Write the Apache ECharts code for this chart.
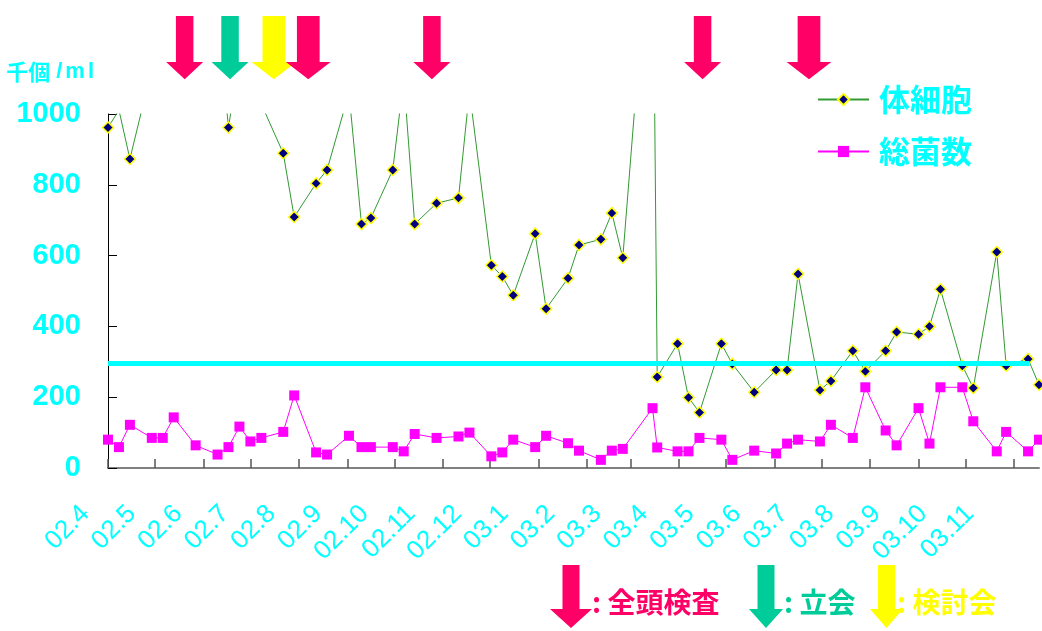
<!DOCTYPE html>
<html>
<head>
<meta charset="utf-8">
<script src="https://cdn.jsdelivr.net/npm/echarts@6/dist/echarts.min.js"></script>
<style>
  html, body { margin: 0; padding: 0; background: #ffffff; }
  #chart { width: 1042px; height: 631px; }
</style>
</head>
<body>
<div id="chart"></div>
<script>
// Weekly bulk-milk sampling dates
const sampleDates = [
  '2002-04-01', '2002-04-08', '2002-04-15', '2002-04-29', '2002-05-06', '2002-05-13', '2002-05-27',
  '2002-06-10', '2002-06-17', '2002-06-24', '2002-07-01', '2002-07-08', '2002-07-22', '2002-07-29',
  '2002-08-12', '2002-08-19', '2002-09-02', '2002-09-10', '2002-09-16', '2002-09-30', '2002-10-07',
  '2002-10-14', '2002-10-28', '2002-11-11', '2002-11-18', '2002-12-02', '2002-12-09', '2002-12-16',
  '2002-12-30', '2003-01-06', '2003-01-20', '2003-01-27', '2003-02-10', '2003-02-17', '2003-02-24',
  '2003-03-15', '2003-03-18', '2003-03-31', '2003-04-07', '2003-04-14', '2003-04-28', '2003-05-05',
  '2003-05-19', '2003-06-02', '2003-06-09', '2003-06-16', '2003-06-30', '2003-07-07', '2003-07-21',
  '2003-07-29', '2003-08-11', '2003-08-18', '2003-09-01', '2003-09-08', '2003-09-15', '2003-09-29',
  '2003-10-06', '2003-10-21', '2003-10-27', '2003-11-10', '2003-11-17'
];

// 体細胞 (thousand cells / ml)
const somaticCells = [
  962, 1011, 873, 1128, 1180, 1220, 1250,
  1285, 962, 1164, 1100, 1028, 889, 709,
  804, 842, 1060, 689, 706, 842, 1100,
  689, 748, 763, 1065, 573, 541, 488,
  662, 450, 536, 630, 646, 720, 594,
  1650, 257, 351, 199, 157, 351, 294,
  214, 277, 277, 548, 220, 246, 331,
  273, 331, 384, 378, 400, 505, 289,
  226, 610, 289, 308, 235
];

// 総菌数 (thousand / ml)
const totalBacteria = [
  80, 59, 122, 85, 85, 143, 64,
  38, 59, 117, 75, 85, 102, 205,
  44, 38, 91, 59, 59, 59, 47,
  96, 85, 89, 100, 33, 44, 80,
  59, 91, 70, 49, 23, 49, 54,
  169, 58, 47, 47, 85, 80, 23,
  49, 41, 69, 80, 75, 122, 85,
  228, 106, 64, 169, 69, 228, 228,
  132, 47, 102, 47, 80
];

const monthLabels = [
  '02.4', '02.5', '02.6', '02.7', '02.8', '02.9', '02.10', '02.11', '02.12',
  '03.1', '03.2', '03.3', '03.4', '03.5', '03.6', '03.7', '03.8', '03.9', '03.10', '03.11'
];

const axisStart = '2002-04-01';
const axisEnd = '2003-11-17';

// reference level line
const thresholdValue = 295;
const thresholdSpan = ['2002-04-01', '2003-11-11'];

// herd events marked with arrows above the plot
const eventDates = ['2002-05-20', '2002-06-18', '2002-07-16', '2002-08-07', '2002-10-25', '2003-04-16', '2003-06-23'];
const eventTypes = ['全頭検査', '立会', '検討会', '全頭検査', '全頭検査', '全頭検査', '全頭検査'];
const eventTypeNames = ['全頭検査', '立会', '検討会'];

// ---- styling ----
const CYAN = '#00FFFF';
const EVENT_COLORS = { '全頭検査': '#FF0066', '立会': '#00CC99', '検討会': '#FFFF00' };
const WIDE_ARROW_EVENTS = [2, 3, 6];

function parseDay(s) {
  const p = s.split('-').map(Number);
  return new Date(p[0], p[1] - 1, p[2]).getTime();
}
function monthStart(label) {
  const p = label.split('.').map(Number);
  return new Date(2000 + p[0], p[1] - 1, 1).getTime();
}

const ts = sampleDates.map(parseDay);
const monthTicks = monthLabels.map(monthStart);

const chart = echarts.init(document.getElementById('chart'), null, { renderer: 'canvas' });

const nameFont = { color: CYAN, fontSize: 22, fontWeight: 'bold' };

chart.setOption({
  animation: false,
  backgroundColor: '#ffffff',
  grid: { left: 108, right: 3, top: 114, bottom: 163, containLabel: false },
  legend: {
    data: ['体細胞', '総菌数'],
    orient: 'vertical',
    left: 817,
    top: 84,
    padding: 0,
    itemWidth: 51,
    itemHeight: 14,
    itemGap: 21,
    selectedMode: false,
    textStyle: {
      color: CYAN, fontSize: 31, fontWeight: 'bold',
      fontFamily: 'Noto Sans CJK JP', padding: [0, 0, 0, 5]
    }
  },
  xAxis: [
    {
      type: 'time',
      min: parseDay(axisStart),
      max: parseDay(axisEnd),
      axisLine: { show: true, lineStyle: { color: '#808080', width: 2 } },
      axisTick: { show: true, inside: true, length: 9, customValues: monthTicks, lineStyle: { color: '#555555', width: 1.5 } },
      axisLabel: { show: false },
      splitLine: { show: false }
    },
    {
      type: 'category',
      data: monthLabels.concat(['']),
      boundaryGap: false,
      position: 'bottom',
      axisLine: { show: false },
      axisTick: { show: false },
      axisLabel: {
        interval: 0, rotate: 45, margin: 19, padding: [0, 32, 0, 0],
        color: CYAN, fontSize: 26, fontFamily: 'Liberation Sans'
      },
      splitLine: { show: false }
    }
  ],
  yAxis: {
    type: 'value',
    min: 0, max: 1000, interval: 200,
    name: '{c|千個}{s|/}{m|m}{l|l}',
    nameLocation: 'end',
    nameGap: 31,
    nameTextStyle: {
      align: 'right', verticalAlign: 'bottom', padding: [0, 14, 0, 0],
      rich: {
        c: Object.assign({ fontFamily: 'Noto Sans CJK JP' }, nameFont),
        s: Object.assign({ fontFamily: 'Liberation Sans', padding: [0, 0, 0, 6] }, nameFont),
        m: Object.assign({ fontFamily: 'Liberation Sans', padding: [0, 0, 0, 3] }, nameFont),
        l: Object.assign({ fontFamily: 'Liberation Sans', padding: [0, 0, 0, 3] }, nameFont)
      }
    },
    axisLine: { show: true, lineStyle: { color: '#000000', width: 1 } },
    axisTick: { show: true, inside: true, length: 9, lineStyle: { color: '#000000', width: 1 } },
    axisLabel: {
      color: CYAN, fontSize: 29, fontWeight: 'bold', fontFamily: 'Liberation Sans',
      margin: 27, padding: [6, 0, 0, 0],
      formatter: v => String(v)
    },
    splitLine: { show: false }
  },
  series: [
    {
      name: '総菌数',
      type: 'line',
      xAxisIndex: 0,
      data: ts.map((t, i) => [t, totalBacteria[i]]),
      symbol: 'rect',
      symbolSize: 10,
      showAllSymbol: true,
      lineStyle: { color: '#FF00FF', width: 1 },
      itemStyle: { color: '#FF00FF' },
      z: 2
    },
    {
      name: '体細胞',
      type: 'line',
      xAxisIndex: 0,
      data: ts.map((t, i) => [t, somaticCells[i]]),
      symbol: 'diamond',
      symbolSize: 11,
      showAllSymbol: true,
      lineStyle: { color: '#339933', width: 1 },
      itemStyle: { color: '#000080', borderColor: '#FFFF00', borderWidth: 1.5 },
      z: 3
    },
    {
      name: '基準',
      type: 'line',
      xAxisIndex: 0,
      data: thresholdSpan.map(d => [parseDay(d), thresholdValue]),
      symbol: 'none',
      silent: true,
      lineStyle: { color: CYAN, width: 5 },
      z: 5
    }
  ]
});

// arrow outline: shaft from top, head ending in a point
function arrowPoints(cx, top, shaftW, headW, totalH, headH) {
  const s = shaftW / 2, h = headW / 2, yb = top + totalH - headH, tip = top + totalH;
  return [[cx - s, top], [cx + s, top], [cx + s, yb], [cx + h, yb], [cx, tip], [cx - h, yb], [cx - s, yb]];
}

const graphics = [];

// event arrows above the plot, placed on the date axis
eventDates.forEach((d, i) => {
  const x = chart.convertToPixel({ xAxisIndex: 0 }, parseDay(d));
  const wide = WIDE_ARROW_EVENTS.indexOf(i) >= 0;
  graphics.push({
    type: 'polygon',
    shape: { points: arrowPoints(x, 16, wide ? 22.7 : 17.5, wide ? 44.7 : 37, 63.3, 17.3) },
    style: { fill: EVENT_COLORS[eventTypes[i]] },
    silent: true,
    z: 10
  });
});

// key for the event arrows, bottom right
const keyLayout = [
  { arrowX: 571, headW: 42, textX: 592 },
  { arrowX: 766, headW: 34, textX: 784 },
  { arrowX: 886.5, headW: 33, textX: 897 }
];
eventTypeNames.forEach((name, i) => {
  const k = keyLayout[i];
  graphics.push({
    type: 'polygon',
    shape: { points: arrowPoints(k.arrowX, 565, 17, k.headW, 63, 19) },
    style: { fill: EVENT_COLORS[name] },
    silent: true,
    z: 10
  });
  graphics.push({
    type: 'text',
    x: k.textX,
    y: 602.5,
    style: {
      text: ': ' + name,
      fill: EVENT_COLORS[name],
      font: 'bold 28px "Noto Sans CJK JP"',
      verticalAlign: 'middle',
      align: 'left'
    },
    silent: true,
    z: 11
  });
});

chart.setOption({ graphic: graphics });
</script>
</body>
</html>
